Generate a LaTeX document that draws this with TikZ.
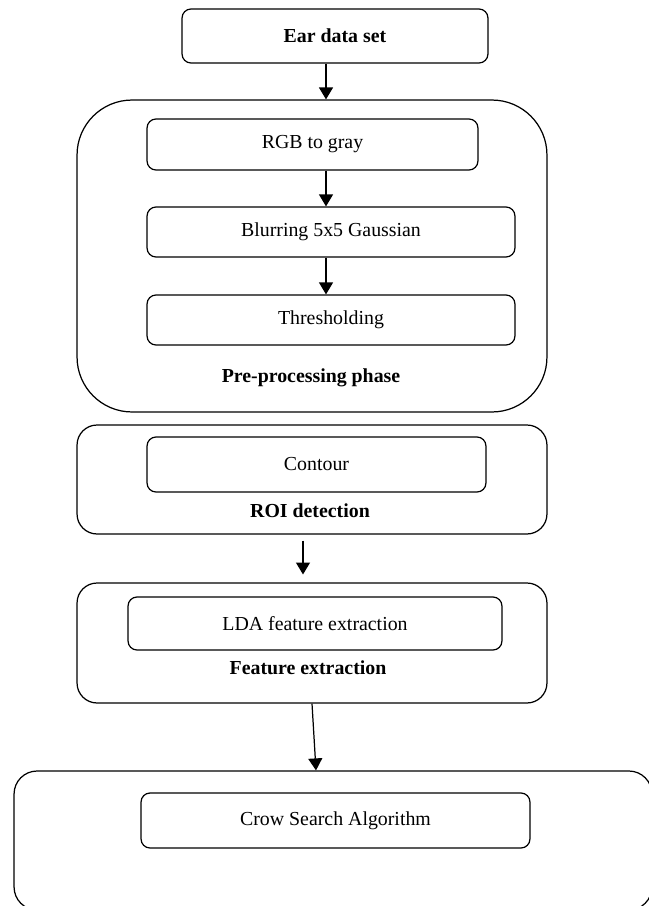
\documentclass[tikz,border=0pt]{standalone}
\usepackage{fontspec}
\setmainfont{Liberation Serif}
\usetikzlibrary{arrows.meta,calc}

\begin{document}
\begin{tikzpicture}[x=0.02cm, y=-0.02cm,
  font=\fontsize{11.3}{13.6}\selectfont,
  box/.style={draw, line width=0.7pt, rounded corners=0.18cm, inner sep=0pt, align=center},
  grp/.style={box, rounded corners=0.4cm},
  lbl/.style={font=\fontsize{11.3}{13.6}\selectfont\bfseries, inner sep=0pt},
  arr/.style={line width=0.7pt, -{Triangle[length=2.4mm,width=2.8mm]}}
]
\useasboundingbox (0,0) rectangle (649,906);
\clip (0,0) rectangle (649,906);
% phases
\node[box, font=\fontsize{11.3}{13.6}\selectfont\bfseries, minimum width=6.12cm, minimum height=1.08cm] (ear) at (335,36) {Ear data set};
\node[grp, rounded corners=1.1cm, minimum width=9.4cm, minimum height=6.24cm] (pre) at (312,256) {};
\node[box, minimum width=6.62cm, minimum height=1.02cm] (rgb) at (312.5,144.5) {RGB to gray};
\node[box, minimum width=7.36cm, minimum height=1cm] (blur) at (331,232) {Blurring 5x5 Gaussian};
\node[box, minimum width=7.36cm, minimum height=1cm] (thr) at (331,320) {Thresholding};
\node[lbl] (prelbl) at (311,378) {Pre-processing phase};
\node[grp, minimum width=9.4cm, minimum height=2.18cm] (roi) at (312,479.5) {};
\node[box, minimum width=6.78cm, minimum height=1.1cm] (cont) at (316.5,464.5) {Contour};
\node[lbl] (roilbl) at (310,511) {ROI detection};
\node[grp, minimum width=9.4cm, minimum height=2.4cm] (feat) at (312,643) {};
\node[box, minimum width=7.48cm, minimum height=1.06cm] (lda) at (315,623.5) {LDA feature extraction};
\node[lbl] (featlbl) at (308,668) {Feature extraction};
\node[grp, rounded corners=0.46cm, minimum width=12.76cm, minimum height=2.78cm] (csa) at (333,840.5) {};
\node[box, minimum width=7.78cm, minimum height=1.1cm] (alg) at (335.5,820.5) {Crow Search Algorithm};
% links
\coordinate (ax) at (326,0);
\draw[arr] (ear.south -| ax) -- (pre.north -| ax);
\foreach \a/\b in {rgb/blur,blur/thr} \draw[arr] (\a.south -| ax) -- (\b.north -| ax);
\draw[arr, shorten <=3.4pt, shorten >=4.5pt] ($(roi.south)+(-9,0)$) -- ($(feat.north)+(-9,0)$);
\draw[arr] (feat.south) -- ($(feat.south |- csa.north)+(4,0)$);
\end{tikzpicture}
\end{document}
